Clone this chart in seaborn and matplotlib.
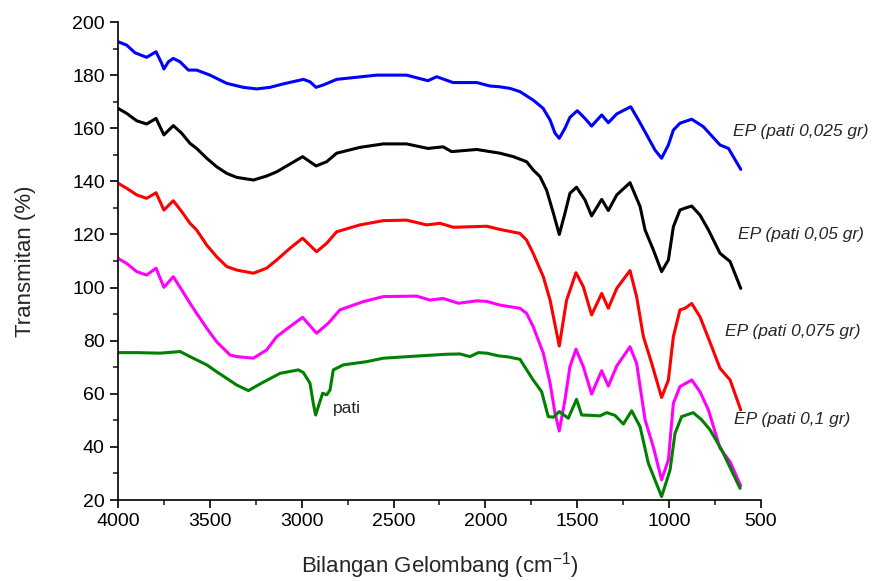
import pandas as pd
import matplotlib
matplotlib.use("Agg")
import matplotlib.pyplot as plt
from matplotlib.ticker import MultipleLocator
import seaborn as sns

# Data spektra FTIR
x_025 = [4000, 3953, 3907, 3844, 3793, 3762, 3750, 3726, 3699, 3662, 3617, 3572, 3499, 3408,
         3318, 3245, 3173, 3100, 2991, 2955, 2922, 2882, 2810, 2592, 2429, 2313, 2265, 2176,
         2047, 1975, 1921, 1866, 1812, 1740, 1686, 1648, 1621, 1598, 1567, 1540, 1500, 1458,
         1422, 1367, 1331, 1285, 1209, 1167, 1122, 1077, 1041, 1004, 977, 941, 877, 814,
         723, 677, 610]
y_025 = [192.6, 191.3, 188.4, 186.7, 188.8, 184.4, 182.3, 185, 186.3, 185, 181.9, 181.9, 180, 176.9,
         175.4, 174.8, 175.4, 176.7, 178.4, 177.5, 175.4, 176.3, 178.4, 180, 180, 177.9, 179.4, 177.2,
         177.2, 175.9, 175.6, 175, 173.8, 170.6, 167.5, 163.1, 158.1, 156.2, 160, 164.1, 166.6, 163.7,
         160.8, 165, 162.1, 165.4, 168.1, 163.1, 157.5, 151.8, 148.7, 153.7, 159.3, 161.9, 163.4, 160.6,
         153.7, 152.4, 144.5]

x_05 = [4000, 3953, 3898, 3844, 3793, 3750, 3699, 3653, 3608, 3572, 3517, 3463, 3408, 3354,
        3263, 3191, 3136, 2995, 2922, 2864, 2810, 2683, 2556, 2429, 2313, 2230, 2184, 2047,
        1921, 1848, 1776, 1740, 1703, 1667, 1630, 1598, 1567, 1540, 1504, 1458, 1422, 1367,
        1331, 1285, 1213, 1158, 1131, 1086, 1041, 1004, 977, 941, 914, 877, 832, 786,
        723, 668, 610]
y_05 = [167.5, 165.6, 162.8, 161.6, 163.7, 157.5, 161, 158.1, 154.3, 152.4, 148.7, 145.5, 143, 141.5,
        140.5, 142, 143.6, 149.3, 145.8, 147.4, 150.6, 152.8, 154.1, 154.1, 152.4, 153, 151.2, 152,
        150.6, 149.3, 147.4, 144.3, 141.8, 136.7, 128, 120, 128, 135.5, 137.8, 133, 127, 133.2,
        129, 134.9, 139.5, 130.5, 121.7, 114.2, 106, 110.4, 122.9, 129.2, 129.9, 130.7, 127.3, 121.7,
        112.9, 109.8, 99.7]

x_075 = [4000, 3953, 3898, 3844, 3793, 3750, 3699, 3653, 3608, 3572, 3517, 3463, 3408, 3354,
         3263, 3191, 3136, 3064, 2995, 2919, 2864, 2810, 2683, 2556, 2429, 2320, 2247, 2174,
         1993, 1921, 1812, 1776, 1740, 1685, 1648, 1598, 1558, 1507, 1467, 1422, 1367, 1331,
         1285, 1213, 1177, 1140, 1095, 1041, 1004, 977, 941, 914, 877, 832, 786, 723,
         668, 610]
y_075 = [139.3, 137.4, 134.9, 133.6, 135.7, 129.2, 132.7, 128.6, 124.2, 121.7, 116, 111.6, 107.9, 106.6,
         105.4, 107.3, 110.4, 114.8, 118.6, 113.5, 116.7, 121, 123.6, 125.2, 125.4, 123.6, 124.2, 122.7,
         123.1, 121.9, 120.4, 117.9, 112.9, 104.1, 95.3, 78, 95.3, 105.6, 100.3, 89.7, 97.8, 92.2,
         99.7, 106.4, 96.6, 81.5, 71.5, 58.6, 65.2, 81.5, 91.6, 92.2, 94, 89, 80.9, 69.6,
         65.2, 53.9]

x_01m = [4000, 3953, 3898, 3844, 3793, 3750, 3699, 3653, 3608, 3572, 3517, 3463, 3390, 3354,
         3263, 3191, 3136, 3064, 2995, 2919, 2855, 2792, 2665, 2556, 2375, 2302, 2230, 2147,
         2047, 1993, 1921, 1812, 1776, 1740, 1685, 1648, 1621, 1598, 1567, 1540, 1507, 1467,
         1422, 1367, 1331, 1285, 1213, 1177, 1131, 1086, 1041, 1004, 977, 941, 877, 832,
         786, 723, 668, 610]
y_01m = [111, 109.1, 106, 104.7, 107.3, 100.1, 104.1, 99.1, 94.1, 90.3, 84.7, 79.6, 74.6, 74,
         73.4, 76.5, 81.5, 85.3, 88.8, 82.8, 86.6, 91.6, 94.7, 96.6, 96.8, 95.3, 95.9, 94.1,
         95, 94.8, 93.4, 92.2, 90.3, 85.3, 75.3, 64, 52.7, 46, 57.7, 70.2, 76.8, 70.2,
         59.9, 68.7, 62.9, 70.5, 77.7, 71.5, 50.2, 40, 27.6, 35.1, 56.4, 62.7, 65.2, 60.8,
         53.9, 39.5, 34.4, 25.3]

x_pati = [4000, 3898, 3771, 3662, 3591, 3517, 3463, 3408, 3354, 3290, 3227, 3118, 3018, 2991,
          2955, 2937, 2924, 2904, 2886, 2864, 2846, 2828, 2773, 2646, 2556, 2375, 2211, 2138,
          2084, 2039, 1993, 1930, 1877, 1812, 1740, 1694, 1658, 1630, 1598, 1549, 1504, 1476,
          1431, 1376, 1340, 1295, 1249, 1204, 1158, 1113, 1041, 995, 968, 932, 869, 823,
          777, 714, 614]
y_pati = [75.5, 75.5, 75.3, 75.9, 73.4, 70.9, 68.3, 65.8, 63.3, 61.2, 63.7, 67.7, 69, 68,
          64, 56.4, 52, 56.4, 60.2, 59.6, 61.4, 69, 70.9, 72.1, 73.4, 74.2, 74.9, 75,
          74, 75.5, 75.3, 74.3, 73.9, 73, 65.2, 60.8, 51.4, 51.2, 53.3, 50.8, 57.9, 52,
          51.9, 51.7, 52.9, 51.9, 48.6, 53.6, 47.6, 33.8, 21.3, 31.3, 45.1, 51.4, 52.9, 50.2,
          46.4, 38.9, 24.4]

series = ["s025", "s05", "s075", "s01m", "pati"]
warna = ["#0000ff", "#000000", "#ff0000", "#ff00ff", "#008000"]

df = pd.concat([
    pd.DataFrame({"x": x_025, "y": y_025, "s": "s025"}),
    pd.DataFrame({"x": x_05, "y": y_05, "s": "s05"}),
    pd.DataFrame({"x": x_075, "y": y_075, "s": "s075"}),
    pd.DataFrame({"x": x_01m, "y": y_01m, "s": "s01m"}),
    pd.DataFrame({"x": x_pati, "y": y_pati, "s": "pati"}),
])

sns.set_style("ticks")
plt.rcParams["font.family"] = ["Liberation Sans", "DejaVu Sans"]
plt.rcParams["mathtext.fontset"] = "custom"
plt.rcParams["mathtext.rm"] = "Liberation Sans"
plt.rcParams["mathtext.default"] = "rm"

fig = plt.figure(figsize=(8.76, 5.81), dpi=100)
ax = fig.add_axes([0.1347, 0.1394, 0.734, 0.8227])
sns.lineplot(data=df, x="x", y="y", hue="s", hue_order=series, palette=warna,
             estimator=None, sort=True, linewidth=2.2, legend=False, ax=ax)
for ln in ax.lines:
    ln.set_solid_joinstyle("round")

ax.set_xlim(4000, 500)
ax.set_ylim(20, 200)
ax.xaxis.set_major_locator(MultipleLocator(500))
ax.xaxis.set_minor_locator(MultipleLocator(250))
ax.yaxis.set_major_locator(MultipleLocator(20))
ax.yaxis.set_minor_locator(MultipleLocator(10))
ax.tick_params(which="major", direction="out", length=6, width=1.2, labelsize=14, colors="black")
ax.tick_params(which="minor", direction="out", length=3.5, width=1.2)
for sp in ["left", "bottom"]:
    ax.spines[sp].set_linewidth(1.2)
    ax.spines[sp].set_color("black")
sns.despine(ax=ax)

ax.set_xlabel("Bilangan Gelombang (cm$^{-1}$)", fontsize=16, labelpad=14)
ax.set_ylabel("Transmitan (%)", fontsize=16, labelpad=26)

lab = dict(fontsize=12.5, style="italic", va="center", ha="left", clip_on=False)
ax.text(652, 158.7, "EP (pati 0,025 gr)", **lab)
ax.text(625, 119.8, "EP (pati 0,05 gr)", **lab)
ax.text(695, 83.4, "EP (pati 0,075 gr)", **lab)
ax.text(646, 50.2, "EP (pati 0,1 gr)", **lab)
ax.text(2831, 54.5, "pati", fontsize=12.5, va="center", ha="left")

fig.savefig("out.png", dpi=100)
